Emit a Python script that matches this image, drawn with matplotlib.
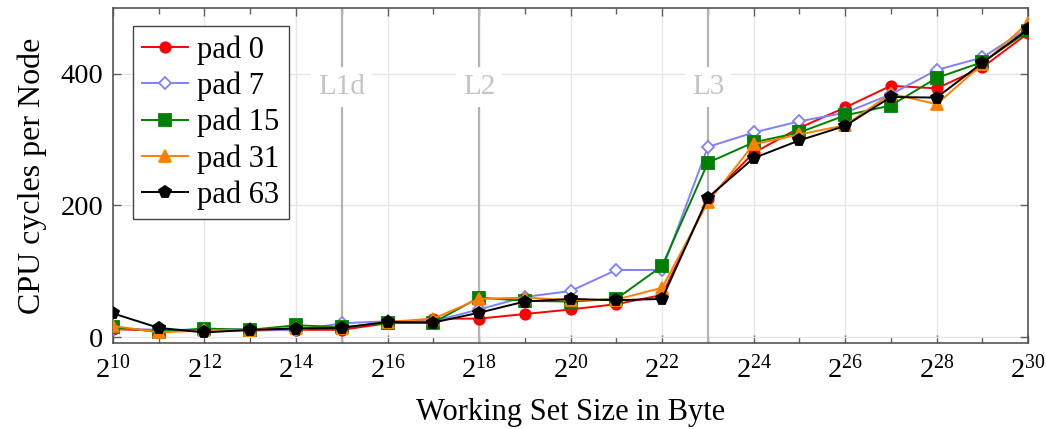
import numpy as np
import matplotlib
matplotlib.use("Agg")
import matplotlib.pyplot as plt
from matplotlib.ticker import FixedLocator, FuncFormatter

plt.rcParams['font.family'] = ['Liberation Serif', 'DejaVu Serif']
plt.rcParams['mathtext.fontset'] = 'custom'
plt.rcParams['mathtext.rm'] = 'Liberation Serif'
plt.rcParams['mathtext.it'] = 'Liberation Serif:italic'

# working set sizes as powers of two
exponents = list(range(10, 31))

pad_0 = [12, 10, 10, 10, 11, 11, 21, 28, 28, 35, 42, 50, 64, 210, 280, 318, 349, 382, 378, 410, 462]
pad_7 = [13, 11, 11, 12, 10, 21, 24, 24, 42, 61, 70, 102, 102, 289, 311, 328, 341, 369, 406, 425, 470]
pad_15 = [15, 8, 13, 11, 18, 15, 21, 22, 60, 55, 54, 58, 108, 265, 296, 311, 337, 352, 394, 418, 465]
pad_31 = [17, 7, 10, 11, 14, 14, 23, 28, 58, 60, 56, 57, 75, 205, 293, 308, 322, 370, 354, 415, 478]
pad_63 = [36, 14, 7, 11, 13, 14, 23, 22, 37, 54, 58, 56, 58, 212, 272, 299, 321, 365, 364, 417, 468]

series_labels = ["pad 0", "pad 7", "pad 15", "pad 31", "pad 63"]
series_values = [pad_0, pad_7, pad_15, pad_31, pad_63]

cache_names = ["L1d", "L2", "L3"]
cache_exponents = [15, 18, 23]

styles = [
    dict(color="#ff0000", marker="o", mfc="#ff0000", markersize=7.5),
    dict(color="#8080ff", marker="D", mfc="white", markersize=6),
    dict(color="#008000", marker="s", mfc="#008000", markersize=8),
    dict(color="#ff8000", marker="^", mfc="#ff8000", markersize=8.5),
    dict(color="#000000", marker="p", mfc="#000000", markersize=8.5),
]

fig = plt.figure(figsize=(10.46, 4.29), dpi=100)
ax = fig.add_axes([0.108, 0.2005, 0.875, 0.7805])

sizes = [2.0 ** e for e in exponents]

ax.set_xscale("log", base=2)
ax.set_xlim(2.0 ** 10, 2.0 ** 30)
ax.set_ylim(-9, 500)

# cache boundaries
for name, e in zip(cache_names, cache_exponents):
    ax.axvline(2.0 ** e, color="#b4b4b4", lw=1.6, zorder=1)
    ax.text(2.0 ** e, 380, name, ha="center", va="center", fontsize=21,
            color="#c4c4c4", zorder=1.5,
            bbox=dict(facecolor="white", edgecolor="none", pad=5))

for lab, vals, st in zip(series_labels, series_values, styles):
    ax.plot(sizes, vals, label=lab, mec=st["color"], mew=1.3, lw=1.4, zorder=3, **st)

ax.xaxis.set_major_locator(FixedLocator([2.0 ** e for e in range(10, 31, 2)]))
ax.xaxis.set_minor_locator(FixedLocator([2.0 ** e for e in range(11, 31, 2)]))
ax.xaxis.set_major_formatter(FuncFormatter(lambda v, p: r"$2^{%d}$" % round(np.log2(v))))
ax.xaxis.set_minor_formatter(FuncFormatter(lambda v, p: ""))
ax.set_yticks([0, 200, 400])

ax.grid(True, which="major", color="#e6e6e6", lw=1.0, zorder=0)
ax.set_axisbelow(True)
ax.tick_params(which="both", direction="in", top=True, right=True, color="#606060",
               labelsize=20.5, width=1.0)
ax.tick_params(which="major", length=6)
ax.tick_params(which="minor", length=4)
ax.tick_params(axis="x", pad=9)
ax.tick_params(axis="y", pad=7)
for sp in ax.spines.values():
    sp.set_color("#555555")
    sp.set_linewidth(1.2)

ax.set_xlabel("Working Set Size in Byte", fontsize=22, labelpad=10)
ax.set_ylabel("CPU cycles per Node", fontsize=23, labelpad=10)

leg = ax.legend(loc="upper left", bbox_to_anchor=(0.022, 0.946), fontsize=22,
                frameon=True, fancybox=False, edgecolor="#444444", framealpha=1,
                handlelength=1.5, handletextpad=0.3, borderpad=0.3, labelspacing=0.22,
                borderaxespad=0.0, markerscale=1.0)
leg.get_frame().set_linewidth(1.0)

fig.savefig("out.png", dpi=100)
